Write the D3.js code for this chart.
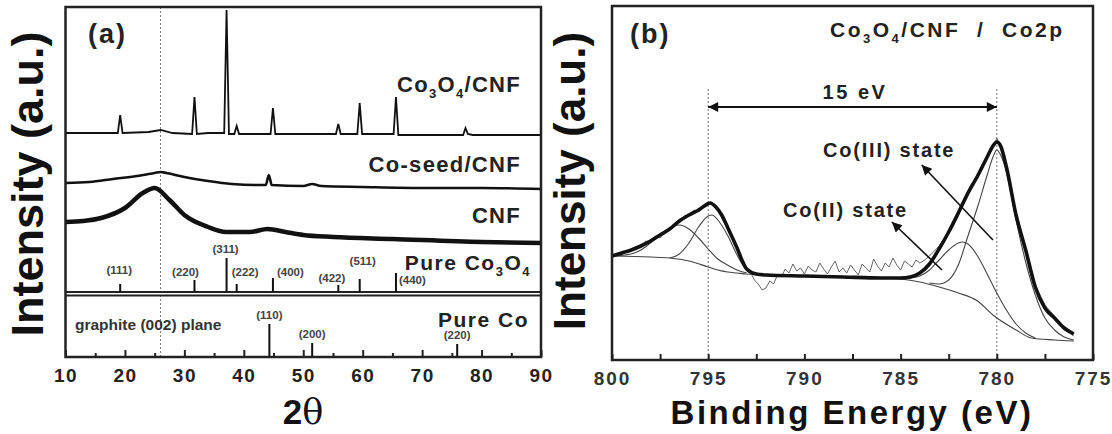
<!DOCTYPE html>
<html>
<head>
<meta charset="utf-8">
<script src="https://d3js.org/d3.v7.min.js"></script>
<style>
  body { margin: 0; background: #fff; }
  svg text { font-family: "Liberation Sans", Arial, sans-serif; font-weight: bold; fill: #222; }
</style>
</head>
<body>
<svg id="chart" width="1112" height="434"></svg>
<script>
// ---------- panel (a) XRD data : [2theta, intensity (a.u., offset)] ----------
var co3o4Cnf = [[10,224],[15,224],[18.8,224],[19.2,242],[19.6,224],[24,225],[26,227],[28,224],
  [31.3,223],[31.7,260],[32.1,223],[34,224],[36.7,224],[37.1,347],[37.5,223],[38.4,223],[38.8,231],
  [39.2,223],[42,223],[44.5,223],[44.9,249],[45.3,223],[50,223],[55.5,223],[55.9,233],[56.3,223],
  [59.1,223],[59.5,254],[59.9,223],[65.2,223],[65.6,260],[66,222],[70,222],[76.9,222],[77.3,229],
  [77.7,223],[78.5,222],[90,222]];
var coSeedCnf = [[10,174],[14,175],[18,178],[22,181],[25,184],[26,185],[27,184],[30,180],[34,176],
  [38,173],[42,172],[43.7,172],[44.2,182],[44.7,172],[50,171],[51.5,173],[53,171],[60,170],[70,169],
  [80,169],[90,168]];
var cnf = [[10,135],[13,136],[16,139],[20,149],[23,164],[25,169],[27.5,157],[30,142],[34,130],[37,125],
  [41,125],[44,128],[47,125],[50,122],[55,120],[65,118],[80,115],[90,114]];

// reference patterns
var co3o4Hkl = ["(111)","(220)","(311)","(222)","(400)","(422)","(511)","(440)"];
var co3o4Pos = [19.2, 31.7, 37.1, 38.8, 44.9, 55.9, 59.5, 65.6];
var co3o4Int = [8, 12, 34, 8, 14, 7, 13, 19];
var coHkl = ["(110)","(200)","(220)"];
var coPos = [44.3, 51.5, 75.9];
var coInt = [33, 14, 13];

var xTicksA = [10,20,30,40,50,60,70,80,90];
var graphite002 = 26;

// ---------- panel (b) XPS Co2p data : [binding energy, intensity] ----------
var envelope = [[800,104],[799.5,107],[799,110],[798.5,114],[798,119],[797.5,125],[797,131],[796.5,139],
  [796,145],[795.5,150],[795.2,154],[794.9,157],[794.6,153],[794.3,145],[794,133],[793.5,112],[793.2,98],
  [793,91],[792.5,86],[792,85],[790,84],[788,83],[786,82],[785,82],[784.5,83],[784,87],[783.5,96],
  [783,111],[782.5,128],[782,147],[781.5,167],[781,184],[780.5,203],[780.2,214],[780,218],[779.8,214],
  [779.5,193],[779,145],[778.5,110],[778,73],[777.5,52],[777,42],[776.5,32],[776,26]];
var rawData = [[800,104],[799.75,106],[799.5,105],[799.25,109],[799,110],[798.75,113],[798.5,114],
  [798.25,119],[798,118],[797.75,124],[797.5,122],[797.25,129],[797,131],[796.75,137],[796.5,139],
  [796.25,144],[796,145],[795.75,150],[795.5,148],[795.25,155],[795,158],[794.75,155],[794.5,149],
  [794.25,141],[794,131],[793.75,121],[793.5,110],[793.25,100],[793,92],[792.8,88],[792.6,80],
  [792.4,76],[792.2,70],[792,72],[791.8,79],[791.6,76],[791.4,85],[791.2,83],[791,91],[790.8,87],
  [790.6,96],[790.4,89],[790.2,92],[790,86],[789.8,94],[789.6,90],[789.4,88],[789.2,97],[789,91],
  [788.8,86],[788.6,93],[788.4,99],[788.2,88],[788,92],[787.8,87],[787.6,95],[787.4,90],[787.2,85],
  [787,96],[786.8,92],[786.6,88],[786.4,101],[786.2,94],[786,89],[785.8,97],[785.6,93],[785.4,102],
  [785.2,95],[785,90],[784.8,99],[784.6,96],[784.4,93],[784.2,100],[784,97],[783.75,100],[783.5,104],
  [783.25,109],[783,114],[782.5,128],[782,146],[781.5,164],[781,184],[780.5,202],[780.25,210],[780,222],
  [779.75,210],[779.5,194],[779,147],[778.5,112],[778,75],[777.5,55],[777,44],[776.75,37],[776.5,30],
  [776.25,28],[776,24]];
var background = [[800,104],[798,103],[797,102],[796,99],[795,93],[794.5,90],[794,88],[793.5,87],[793,86],
  [792,85],[790,84],[788,83],[786,82],[785,81],[784,78],[783,73],[782,67],[781,59],[780.2,45],[779,30],
  [778.2,22],[777,20],[776,19]];
var co2p12Sat = [[800,104],[799,106],[798.5,110],[798,117],[797.5,125],[797,132],[796.5,135],[796,131],
  [795.5,122],[795,111],[794.5,101],[794,95],[793.5,90],[793,87]];
var co2p12Main = [[797,102],[796.5,106],[796,117],[795.5,133],[795,144],[794.8,145],[794.5,140],[794,125],
  [793.5,105],[793,90],[792.5,86]];
var coIII = [[783.5,77],[783,76],[782.5,80],[782,95],[781.5,124],[781,153],[780.5,185],[780.2,203],
  [780,210],[779.8,205],[779.5,188],[779,140],[778.5,98],[778,65],[777.5,42],[777,30],[776.5,23],[776,20]];
var coII = [[785,81],[784.5,82],[784,84],[783.5,90],[783,100],[782.5,110],[782,117],[781.8,118],
  [781.5,116],[781,104],[780.5,86],[780,67],[779.5,50],[779,36],[778.5,27],[778,22]];

var xTicksB = [800,795,790,785,780,775];
var splitPeaks = [795, 780];

var svg = d3.select("#chart");

// arrow marker
svg.append("defs").append("marker")
  .attr("id", "head")
  .attr("viewBox", "0 0 10 10")
  .attr("refX", 10).attr("refY", 5)
  .attr("markerWidth", 16).attr("markerHeight", 10)
  .attr("markerUnits", "userSpaceOnUse")
  .attr("orient", "auto-start-reverse")
  .append("path").attr("d", "M0,0L10,5L0,10Z").attr("fill", "#111");

// text with subscripts: parts = [[text, isSub], ...]
function richText(g, x, y, parts, size, anchor, spacing) {
  var t = g.append("text").attr("x", x).attr("y", y)
    .attr("text-anchor", anchor).style("font-size", size + "px")
    .style("letter-spacing", spacing + "px");
  var down = false;
  parts.forEach(function (p) {
    var s = t.append("tspan").text(p[0]);
    if (p[1] && !down) { s.attr("dy", 6).style("font-size", Math.round(size * 0.6) + "px"); down = true; }
    else if (p[1]) { s.style("font-size", Math.round(size * 0.6) + "px"); }
    else if (down) { s.attr("dy", -6); down = false; }
  });
  if (down) t.append("tspan").attr("dy", -6).text("");
  return t;
}

// ================= panel (a) =================
var xa = d3.scaleLinear().domain([10, 90]).range([65.5, 541]);
var ya = d3.scaleLinear().domain([0, 350]).range([357, 7]);
var ga = svg.append("g");

// graphite (002) dotted line
ga.append("line")
  .attr("x1", xa(graphite002)).attr("x2", xa(graphite002))
  .attr("y1", ya(350)).attr("y2", ya(0))
  .attr("stroke", "#777").attr("stroke-width", 1).attr("stroke-dasharray", "2,2");

var lineA = d3.line().x(function (d) { return xa(d[0]); }).y(function (d) { return ya(d[1]); });
ga.append("path").datum(cnf).attr("d", lineA.curve(d3.curveMonotoneX))
  .attr("fill", "none").attr("stroke", "#111").attr("stroke-width", 4.5);
ga.append("path").datum(coSeedCnf).attr("d", lineA.curve(d3.curveMonotoneX))
  .attr("fill", "none").attr("stroke", "#111").attr("stroke-width", 2.6);
ga.append("path").datum(co3o4Cnf).attr("d", lineA.curve(d3.curveLinear))
  .attr("fill", "none").attr("stroke", "#111").attr("stroke-width", 1.8);

// Co3O4 reference sticks
var co3o4Base = 65;
ga.append("line").attr("x1", xa(10)).attr("x2", xa(90))
  .attr("y1", ya(co3o4Base)).attr("y2", ya(co3o4Base))
  .attr("stroke", "#222").attr("stroke-width", 2);
ga.append("line").attr("x1", xa(10)).attr("x2", xa(90))
  .attr("y1", ya(co3o4Base - 3.5)).attr("y2", ya(co3o4Base - 3.5))
  .attr("stroke", "#222").attr("stroke-width", 1.8);
ga.selectAll(".stickA").data(co3o4Pos).enter().append("line")
  .attr("x1", function (d) { return xa(d); }).attr("x2", function (d) { return xa(d); })
  .attr("y1", ya(co3o4Base)).attr("y2", function (d, i) { return ya(co3o4Base + co3o4Int[i]); })
  .attr("stroke", "#111").attr("stroke-width", 2);
// label placement relative to the stick top: [dx, dy, anchor]
var co3o4LabelPos = [[-1,-10,"middle"],[-9,-4,"middle"],[-1,-5,"middle"],[-5,-8,"start"],
  [4,-2,"start"],[7,-3,"end"],[3,-14,"middle"],[3,11,"start"]];
ga.selectAll(".hklA").data(co3o4Hkl).enter().append("text")
  .attr("x", function (d, i) { return xa(co3o4Pos[i]) + co3o4LabelPos[i][0]; })
  .attr("y", function (d, i) { return ya(co3o4Base + co3o4Int[i]) + co3o4LabelPos[i][1]; })
  .attr("text-anchor", function (d, i) { return co3o4LabelPos[i][2]; })
  .style("font-size", "11.5px").style("fill", "#444")
  .text(function (d) { return d; });

// Co reference sticks
ga.selectAll(".stickB").data(coPos).enter().append("line")
  .attr("x1", function (d) { return xa(d); }).attr("x2", function (d) { return xa(d); })
  .attr("y1", ya(0)).attr("y2", function (d, i) { return ya(coInt[i]); })
  .attr("stroke", "#111").attr("stroke-width", 2);
ga.selectAll(".hklB").data(coHkl).enter().append("text")
  .attr("x", function (d, i) { return xa(coPos[i]); })
  .attr("y", function (d, i) { return ya(coInt[i]) - 5; })
  .attr("text-anchor", "middle")
  .style("font-size", "11.5px").style("fill", "#444")
  .text(function (d) { return d; });

// axis
var axA = ga.append("g").attr("transform", "translate(0," + ya(0) + ")")
  .call(d3.axisBottom(xa).tickValues(xTicksA).tickSize(-7).tickPadding(12).tickFormat(d3.format("d")));
axA.select(".domain").remove();
axA.selectAll("text").style("font-size", "19px").style("letter-spacing", "1.5px").style("fill", "#222");
axA.selectAll("line").attr("stroke", "#222").attr("stroke-width", 2);
var axAm = ga.append("g").attr("transform", "translate(0," + ya(0) + ")")
  .call(d3.axisBottom(xa).tickValues(d3.range(15, 90, 10)).tickSize(-4).tickFormat(""));
axAm.select(".domain").remove();
axAm.selectAll("line").attr("stroke", "#222").attr("stroke-width", 2);

ga.append("rect").attr("x", xa(10)).attr("y", ya(350))
  .attr("width", xa(90) - xa(10)).attr("height", ya(0) - ya(350))
  .attr("fill", "none").attr("stroke", "#222").attr("stroke-width", 2.5);

// labels
ga.append("text").attr("x", 88).attr("y", 43).style("font-size", "27px").style("letter-spacing", "2px").text("(a)");
richText(ga, 521, 92, [["Co",0],["3",1],["O",0],["4",1],["/CNF",0]], 22, "end", 1.3);
ga.append("text").attr("x", 521).attr("y", 172).attr("text-anchor", "end")
  .style("font-size", "22px").style("letter-spacing", "1.3px").text("Co-seed/CNF");
ga.append("text").attr("x", 521).attr("y", 223).attr("text-anchor", "end")
  .style("font-size", "22px").style("letter-spacing", "1.3px").text("CNF");
richText(ga, 531, 270, [["Pure Co",0],["3",1],["O",0],["4",1]], 21, "end", 1.5);
ga.append("text").attr("x", 529).attr("y", 327).attr("text-anchor", "end")
  .style("font-size", "21px").style("letter-spacing", "1.5px").text("Pure Co");
ga.append("text").attr("x", 75).attr("y", 330)
  .style("font-size", "15.5px").style("fill", "#333").text("graphite (002) plane");
ga.append("text").attr("transform", "translate(43,184) rotate(-90)").attr("text-anchor", "middle")
  .style("font-size", "45px").style("fill", "#111").text("Intensity (a.u.)");
var th = ga.append("text").attr("x", 303).attr("y", 424).attr("text-anchor", "middle").style("font-size", "35px").style("fill", "#111");
th.append("tspan").text("2");
th.append("tspan").style("font-family", "'DejaVu Serif', serif").style("font-weight", "normal").text("\u03b8");

// ================= panel (b) =================
var xb = d3.scaleLinear().domain([800, 775]).range([612, 1093]);
var yb = d3.scaleLinear().domain([0, 354]).range([360, 6]);
var gb = svg.append("g");

splitPeaks.forEach(function (e) {
  gb.append("line").attr("x1", xb(e)).attr("x2", xb(e))
    .attr("y1", yb(271)).attr("y2", yb(0))
    .attr("stroke", "#777").attr("stroke-width", 1).attr("stroke-dasharray", "2,2");
});

var lineB = d3.line().x(function (d) { return xb(d[0]); }).y(function (d) { return yb(d[1]); })
  .curve(d3.curveMonotoneX);
[background, co2p12Sat, co2p12Main, coIII, coII].forEach(function (s) {
  gb.append("path").datum(s).attr("d", lineB)
    .attr("fill", "none").attr("stroke", "#444").attr("stroke-width", 1.1);
});
gb.append("path").datum(rawData).attr("d", d3.line().x(function (d) { return xb(d[0]); }).y(function (d) { return yb(d[1]); }))
  .attr("fill", "none").attr("stroke", "#555").attr("stroke-width", 0.9);
gb.append("path").datum(envelope).attr("d", lineB)
  .attr("fill", "none").attr("stroke", "#111").attr("stroke-width", 3.6);

// axis
var axB = gb.append("g").attr("transform", "translate(0," + yb(0) + ")")
  .call(d3.axisBottom(xb).tickValues(xTicksB).tickSize(-6).tickPadding(12).tickFormat(d3.format("d")));
axB.select(".domain").remove();
axB.selectAll("text").style("font-size", "19px").style("letter-spacing", "2px").style("fill", "#333");
axB.selectAll("line").attr("stroke", "#222").attr("stroke-width", 2);
var axBm = gb.append("g").attr("transform", "translate(0," + yb(0) + ")")
  .call(d3.axisBottom(xb).tickValues(d3.range(797.5, 775, -5)).tickSize(-6).tickFormat(""));
axBm.select(".domain").remove();
axBm.selectAll("line").attr("stroke", "#222").attr("stroke-width", 2);

gb.append("rect").attr("x", xb(800)).attr("y", yb(354))
  .attr("width", xb(775) - xb(800)).attr("height", yb(0) - yb(354))
  .attr("fill", "none").attr("stroke", "#222").attr("stroke-width", 2.5);

// 15 eV spin-orbit splitting arrow
gb.append("line").attr("x1", xb(splitPeaks[0])).attr("x2", xb(splitPeaks[1]))
  .attr("y1", yb(253)).attr("y2", yb(253))
  .attr("stroke", "#111").attr("stroke-width", 2)
  .attr("marker-start", "url(#head)").attr("marker-end", "url(#head)");
gb.append("text").attr("x", 855).attr("y", 99).attr("text-anchor", "middle")
  .style("font-size", "20px").style("letter-spacing", "2.5px").text("15 eV");

// state arrows
gb.append("line").attr("x1", xb(780.2)).attr("y1", yb(120)).attr("x2", xb(783.9)).attr("y2", yb(195))
  .attr("stroke", "#111").attr("stroke-width", 1.6).attr("marker-end", "url(#head)");
gb.append("line").attr("x1", xb(782.85)).attr("y1", yb(90)).attr("x2", xb(785.45)).attr("y2", yb(138))
  .attr("stroke", "#111").attr("stroke-width", 1.6).attr("marker-end", "url(#head)");
gb.append("text").attr("x", 823).attr("y", 157)
  .style("font-size", "20px").style("letter-spacing", "1.8px").text("Co(III) state");
gb.append("text").attr("x", 783).attr("y", 217)
  .style("font-size", "20px").style("letter-spacing", "1.8px").text("Co(II) state");

gb.append("text").attr("x", 630).attr("y", 43).style("font-size", "27px").style("letter-spacing", "2px").text("(b)");
richText(gb, 830, 37, [["Co",0],["3",1],["O",0],["4",1],["/CNF  /  Co2p",0]], 21, "start", 2.5)
  .style("white-space", "pre");
gb.append("text").attr("transform", "translate(585,181) rotate(-90)").attr("text-anchor", "middle")
  .style("font-size", "44px").style("fill", "#111").text("Intensity (a.u.)");
gb.append("text").attr("x", 852).attr("y", 424).attr("text-anchor", "middle")
  .style("font-size", "33px").style("letter-spacing", "2.5px").style("fill", "#111").text("Binding Energy (eV)");
</script>
</body>
</html>
